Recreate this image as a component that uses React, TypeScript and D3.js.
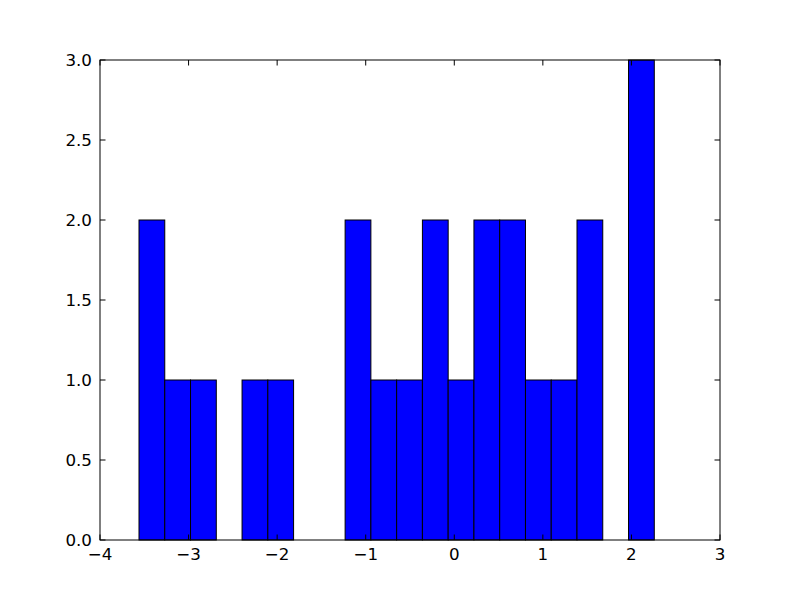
import React from "react";
import * as d3 from "d3";

const binStart = -3.5597;
const binWidth = 0.29089;
const counts = [2, 1, 1, 0, 1, 1, 0, 0, 2, 1, 1, 2, 1, 2, 2, 1, 1, 2, 0, 3];
const xTicks = [-4, -3, -2, -1, 0, 1, 2, 3];
const yTicks = [0, 0.5, 1, 1.5, 2, 2.5, 3];

export default function App() {
  const W = 800, H = 600;
  const left = 100, right = 720, top = 60, bottom = 540;
  const x = d3.scaleLinear().domain([-4, 3]).range([left, right]);
  const y = d3.scaleLinear().domain([0, 3]).range([bottom, top]);
  const tl = 5.5;
  const font = "DejaVu Sans, sans-serif";
  const fmtX = (v: number) => (v < 0 ? "\u2212" + Math.abs(v) : String(v));
  return (
    <svg width={W} height={H} style={{ position: "absolute", left: 0, top: 0, background: "#fff" }}>
      <rect x={0} y={0} width={W} height={H} fill="#fff" />
      {counts.map((c, i) =>
        c > 0 ? (
          <rect
            key={i}
            x={x(binStart + i * binWidth)}
            y={y(c)}
            width={x(binStart + (i + 1) * binWidth) - x(binStart + i * binWidth)}
            height={y(0) - y(c)}
            fill="#0000ff"
            stroke="#000"
            strokeWidth={1}
          />
        ) : null
      )}
      <rect x={left} y={top} width={right - left} height={bottom - top} fill="none" stroke="#000" strokeWidth={1} />
      {xTicks.map((t) => (
        <g key={"x" + t}>
          <line x1={x(t)} x2={x(t)} y1={bottom} y2={bottom - tl} stroke="#000" />
          <line x1={x(t)} x2={x(t)} y1={top} y2={top + tl} stroke="#000" />
          <text x={x(t)} y={bottom + 20} textAnchor="middle" fontFamily={font} fontSize={16.7} fill="#000">
            {fmtX(t)}
          </text>
        </g>
      ))}
      {yTicks.map((t) => (
        <g key={"y" + t}>
          <line x1={left} x2={left + tl} y1={y(t)} y2={y(t)} stroke="#000" />
          <line x1={right} x2={right - tl} y1={y(t)} y2={y(t)} stroke="#000" />
          <text x={left - 8} y={y(t) + 6} textAnchor="end" fontFamily={font} fontSize={16.7} fill="#000">
            {t.toFixed(1)}
          </text>
        </g>
      ))}
    </svg>
  );
}
